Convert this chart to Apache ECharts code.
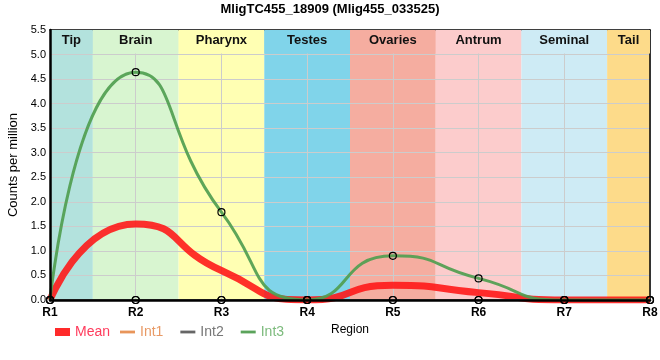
<!DOCTYPE html>
<html><head><meta charset="utf-8">
<script src="https://cdn.jsdelivr.net/npm/echarts@6/dist/echarts.min.js"></script>
<style>html,body{margin:0;padding:0;background:#fff}#c{width:660px;height:360px}</style>
</head><body><div id="c"></div>
<script>
var titleText = 'MligTC455_18909 (Mlig455_033525)';
var categories = ['R1','R2','R3','R4','R5','R6','R7','R8'];
var meanVals = [0, 1.55, 0.6, 0, 0.3, 0.15, 0, 0];
var int1Vals = [0, 0, 0, 0, 0, 0, 0, 0];
var int2Vals = [0, 0, 0, 0, 0, 0, 0, 0];
var int3Vals = [0, 4.64, 1.79, 0, 0.9, 0.44, 0, 0];
var bandNames = ['Tip','Brain','Pharynx','Testes','Ovaries','Antrum','Seminal','Tail'];
var bandColors = ['#b3e2dd','#d8f5d0','#ffffb3','#80d4ea','#f5ada0','#fccccc','#ceebf5','#fddb8a'];
var bandEdges = [0, 0.5, 1.5, 2.5, 3.5, 4.5, 5.5, 6.5, 7];
var yTicks = [0, 5.5, 0.5];
var labelStripBottom = 5.02;

var FONT = 'Liberation Sans, Arial, sans-serif';
function pts(arr){ return arr.map(function(v,i){ return [i, v]; }); }
var bands = bandNames.map(function(n,i){
  return [{xAxis:bandEdges[i], yAxis:yTicks[0], itemStyle:{color:bandColors[i]}},
          {xAxis:bandEdges[i+1], yAxis:yTicks[1]}];
});
var strips = bandNames.map(function(n,i){
  return [{name:n, xAxis:bandEdges[i], yAxis:labelStripBottom, itemStyle:{color:bandColors[i]}},
          {xAxis:bandEdges[i+1], yAxis:yTicks[1]}];
});
var sym = {color:'rgba(0,0,0,0)', borderColor:'#000', borderWidth:1.2};
var lineIcon = 'path://M0,0H16V3H0Z';
var chart = echarts.init(document.getElementById('c'), null, {renderer:'canvas'});
chart.setOption({
  animation:false,
  textStyle:{fontFamily:FONT},
  title:{text:titleText, left:'center', top:-2, textStyle:{fontSize:13, fontWeight:'bold', color:'#000', fontFamily:FONT}},
  grid:{left:50, right:10, top:30, bottom:60, outerBoundsMode:'none'},
  legend:[
    {left:50, top:320, itemWidth:15, itemHeight:8, itemGap:17,
     textStyle:{fontSize:14, fontFamily:FONT},
     data:[{name:'Mean', icon:'rect', itemStyle:{color:'#ff2a2a', borderWidth:0}, textStyle:{color:'#ff3b5c'}}]},
    {left:115, top:320, itemWidth:15, itemHeight:8, itemGap:17,
     textStyle:{fontSize:14, fontFamily:FONT},
     data:[
      {name:'Int1', icon:lineIcon, itemStyle:{color:'#e8955a', borderColor:'#e8955a', borderWidth:0}, textStyle:{color:'#e89a66'}},
      {name:'Int2', icon:lineIcon, itemStyle:{color:'#666666', borderColor:'#666666', borderWidth:0}, textStyle:{color:'#777777'}},
      {name:'Int3', icon:lineIcon, itemStyle:{color:'#5ba35b', borderColor:'#5ba35b', borderWidth:0}, textStyle:{color:'#7dbb7d'}}
     ]}
  ],
  xAxis:[
    {type:'value', position:'bottom', min:0, max:categories.length-1, interval:1, z:5,
     axisLine:{show:true, onZero:false, lineStyle:{color:'#000', width:2.5}},
     axisTick:{show:false}, splitLine:{show:false},
     axisLabel:{formatter:function(v){return categories[v];}, fontSize:12, fontWeight:'bold', color:'#000', margin:7, fontFamily:FONT},
     name:'Region', nameLocation:'middle', nameGap:24, nameTextStyle:{fontSize:12, color:'#000', fontFamily:FONT}},
    {type:'value', position:'top', min:0, max:categories.length-1, interval:1, z:1.5,
     axisLine:{show:true, onZero:false, lineStyle:{color:'#000', width:1.5}},
     axisTick:{show:false}, axisLabel:{show:false},
     splitLine:{show:true, lineStyle:{color:'#cccccc', width:1}}}
  ],
  yAxis:[
    {type:'value', position:'left', min:yTicks[0], max:yTicks[1], interval:yTicks[2], z:5,
     axisLine:{show:true, onZero:false, lineStyle:{color:'#000', width:2.5}},
     axisTick:{show:false}, splitLine:{show:false},
     axisLabel:{formatter:function(v){return v.toFixed(1);}, fontSize:11, color:'#000', margin:4, fontFamily:FONT},
     name:'Counts per million', nameLocation:'middle', nameGap:28, nameTextStyle:{fontSize:13, color:'#000', fontFamily:FONT}},
    {type:'value', position:'right', min:yTicks[0], max:yTicks[1], interval:yTicks[2], z:1.5,
     axisLine:{show:true, onZero:false, lineStyle:{color:'#000', width:1.5}},
     axisTick:{show:false}, axisLabel:{show:false},
     splitLine:{show:true, lineStyle:{color:'#cccccc', width:1}}}
  ],
  series:[
    {name:'Mean', type:'line', xAxisIndex:0, yAxisIndex:0, data:pts(meanVals), smooth:0.6, showSymbol:false, symbol:'none',
     lineStyle:{color:'rgba(255,20,20,0.88)', width:7}, itemStyle:{color:'#ff2a2a'}, z:2,
     markArea:{silent:true, z:1, label:{show:false}, data:bands}},
    {name:'Int1', type:'line', xAxisIndex:0, yAxisIndex:0, data:pts(int1Vals), smooth:0.6, symbol:'circle', symbolSize:7,
     lineStyle:{color:'#e8955a', width:2}, itemStyle:sym, z:3,
     markArea:{silent:true, z:1.8, label:{show:true, position:'insideTop', distance:4, fontSize:13, fontWeight:'bold', color:'#111', fontFamily:FONT}, data:strips}},
    {name:'Int2', type:'line', xAxisIndex:0, yAxisIndex:0, data:pts(int2Vals), smooth:0.6, symbol:'circle', symbolSize:7,
     lineStyle:{color:'#666666', width:2}, itemStyle:sym, z:3},
    {name:'Int3', type:'line', xAxisIndex:0, yAxisIndex:0, data:pts(int3Vals), smooth:0.6, symbol:'circle', symbolSize:7,
     lineStyle:{color:'rgba(80,158,80,0.92)', width:3}, itemStyle:sym, z:3}
  ]
});
</script></body></html>
